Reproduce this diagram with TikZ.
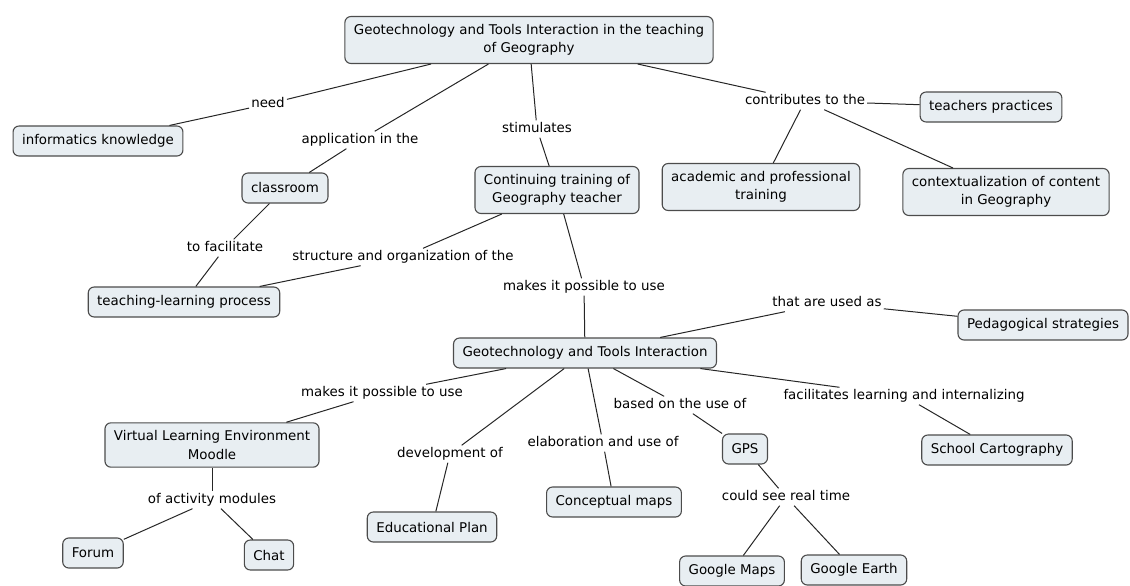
\documentclass[tikz,border=0pt]{standalone}
\usepackage{fontspec}
\setmainfont{DejaVu Sans}
\begin{document}
\begin{tikzpicture}[x=1pt,y=-1pt,
  font=\fontsize{13.4}{18}\selectfont,
  concept/.style={draw=black!70, fill=boxfill, rounded corners=6pt, line width=1.1pt,
    inner xsep=9pt, inner ysep=8pt, align=center, minimum height=30pt},
  lbl/.style={fill=none, inner sep=2pt, text height=10pt, text depth=3pt},
  link/.style={draw=black!85, line width=1pt}]
\definecolor{boxfill}{HTML}{E8EEF2}
\useasboundingbox (0,0) rectangle (1130,586);
% concepts
\node[concept] (top) at (529,40) {Geotechnology and Tools Interaction in the teaching\\of Geography};
\node[concept] (info) at (98,141) {informatics knowledge};
\node[concept] (class) at (285,188) {classroom};
\node[concept] (cont) at (557,190) {Continuing training of\\Geography teacher};
\node[concept] (acad) at (761,187) {academic and professional\\training};
\node[concept] (ctx) at (1006,192) {contextualization of content\\in Geography};
\node[concept] (tp) at (991,107) {teachers practices};
\node[concept] (tlp) at (184,302) {teaching-learning process};
\node[concept] (geo) at (585,353) {Geotechnology and Tools Interaction};
\node[concept] (ped) at (1043,325) {Pedagogical strategies};
\node[concept] (vle) at (212,445) {Virtual Learning Environment\\Moodle};
\node[concept] (edu) at (432,527) {Educational Plan};
\node[concept] (cmap) at (614,502) {Conceptual maps};
\node[concept] (gps) at (745,449) {GPS};
\node[concept] (sc) at (997,450) {School Cartography};
\node[concept] (forum) at (93,553) {Forum};
\node[concept] (chat) at (269,555) {Chat};
\node[concept] (gmaps) at (732,571) {Google Maps};
\node[concept] (gearth) at (854,570) {Google Earth};
% link labels
\node[lbl] (l1) at (268,104) {need};
\node[lbl] (l2) at (360,140) {application in the};
\node[lbl] (l3) at (537,129) {stimulates};
\node[lbl] (l4) at (805,101) {contributes to the};
\node[lbl] (l5) at (225,248) {to facilitate};
\node[lbl] (l6) at (403,257) {structure and organization of the};
\node[lbl] (l7) at (584,287) {makes it possible to use};
\node[lbl] (l8) at (827,303) {that are used as};
\node[lbl] (l9) at (382,393) {makes it possible to use};
\node[lbl] (l10) at (450,454) {development of};
\node[lbl] (l11) at (603,443) {elaboration and use of};
\node[lbl] (l12) at (680,405) {based on the use of};
\node[lbl] (l13) at (904,396) {facilitates learning and internalizing};
\node[lbl] (l14) at (212,500) {of activity modules};
\node[lbl] (l15) at (786,497) {could see real time};
% connectors
\draw[link] (top) -- (l1) -- (info);
\draw[link] (top) -- (l2) -- (class);
\draw[link] (top) -- (l3) -- (cont);
\draw[link] (top) -- (l4);
\draw[link] (l4) -- (tp);
\draw[link] (l4) -- (acad);
\draw[link] (l4) -- (ctx);
\draw[link] (class) -- (l5) -- (tlp);
\draw[link] (cont) -- (l6) -- (tlp);
\draw[link] (cont) -- (l7) -- (geo);
\draw[link] (geo) -- (l8) -- (ped);
\draw[link] (geo) -- (l9) -- (vle);
\draw[link] (geo) -- (l10) -- (edu);
\draw[link] (geo) -- (l11) -- (cmap);
\draw[link] (geo) -- (l12) -- (gps);
\draw[link] (geo) -- (l13) -- (sc);
\draw[link] (vle) -- (l14);
\draw[link] (l14) -- (forum);
\draw[link] (l14) -- (chat);
\draw[link] (gps) -- (l15);
\draw[link] (l15) -- (gmaps);
\draw[link] (l15) -- (gearth);
\end{tikzpicture}
\end{document}
